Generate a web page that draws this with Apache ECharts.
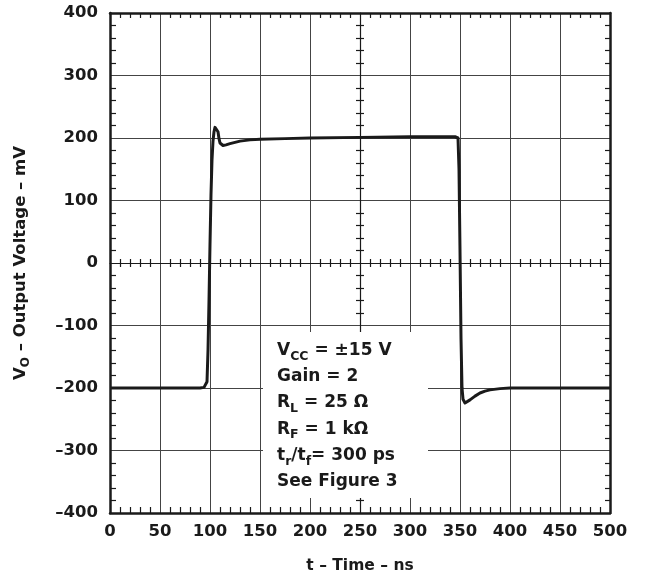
<!DOCTYPE html>
<html><head><meta charset="utf-8">
<script src="https://cdn.jsdelivr.net/npm/echarts@6/dist/echarts.min.js"></script>
<style>html,body{margin:0;padding:0;background:#fff}#c{width:648px;height:577px}</style>
</head><body><div id="c"></div>
<script>
// ---- data ----
const timeNs = [0, 50, 90, 94, 96, 97, 98, 99, 100, 101, 102, 103, 104, 105, 106, 107, 108, 109, 110, 111, 113, 116, 120, 125, 130, 140, 150, 175, 200, 250, 300, 345, 347, 348, 349, 350, 351, 352, 353, 355, 357, 360, 365, 370, 375, 380, 390, 400, 450, 500];
const outputMv = [-200, -200, -200, -199, -197, -190, -140, -60, 30, 110, 165, 195, 210, 217, 220, 218, 210, 199, 192, 189, 188, 189, 191, 193, 195, 197, 198, 199, 200, 201, 202, 202, 202, 200, 150, 20, -120, -200, -218, -224, -223, -219, -213, -208, -205, -203, -201, -200, -200, -200];
const xRange = [0, 500, 50];
const yRange = [-400, 400, 100];
const xTitle = 't – Time – ns';
const yTitleMain = 'V';
const yTitleSub = 'O';
const yTitleRest = ' – Output Voltage – mV';
const noteLines = [
  ['V', 'CC', ' = ±15 V'],
  ['Gain = 2'],
  ['R', 'L', ' = 25 Ω'],
  ['R', 'F', ' = 1 kΩ'],
  ['t', 'r', '/t', 'f', '= 300 ps'],
  ['See Figure 3']
];

// ---- chart ----
const FONT = 'DejaVu Sans';
const INK = '#1a1a1a';
const GRIDC = '#444';
const chart = echarts.init(document.getElementById('c'));

function richLine(parts) {
  return parts.map((p, i) => i % 2 === 0 ? '{n|' + p + '}' : '{s|' + p + '}').join('');
}
const noteText = noteLines.map(richLine).join('\n');

const fmt = v => String(v).replace('-', '–');
function xAx(extra) {
  return Object.assign({
    type: 'value', min: xRange[0], max: xRange[1], interval: xRange[2],
    axisLine: { show: true, onZero: false, lineStyle: { color: INK, width: 2.5 } },
    axisTick: { show: false, inside: true },
    minorTick: { show: true, splitNumber: 5, length: 6, lineStyle: { color: INK, width: 1.2 } },
    splitLine: { show: false }, minorSplitLine: { show: false },
    axisLabel: { show: false }
  }, extra);
}
function yAx(extra) {
  return Object.assign({
    type: 'value', min: yRange[0], max: yRange[1], interval: yRange[2],
    axisLine: { show: true, onZero: false, lineStyle: { color: INK, width: 2.5 } },
    axisTick: { show: false, inside: true },
    minorTick: { show: true, splitNumber: 5, length: 6, lineStyle: { color: INK, width: 1.2 } },
    splitLine: { show: false }, minorSplitLine: { show: false },
    axisLabel: { show: false }
  }, extra);
}

const option = {
  animation: false,
  backgroundColor: '#fff',
  grid: { left: 110, right: 38, top: 13, bottom: 64, containLabel: false, outerBoundsMode: 'none' },
  xAxis: [
    xAx({ position: 'bottom',
      splitLine: { show: true, lineStyle: { color: GRIDC, width: 1 } },
      axisLabel: { show: true, margin: 10, color: INK, fontFamily: FONT, fontWeight: 'bold', fontSize: 16.5, formatter: fmt },
      name: xTitle, nameLocation: 'middle', nameGap: 45,
      nameTextStyle: { color: INK, fontFamily: FONT, fontWeight: 'bold', fontSize: 15.5 }
    }),
    xAx({ position: 'top', minorTick: { show: true, splitNumber: 5, length: 5, lineStyle: { color: INK, width: 1.2 } } }),
    xAx({ position: 'bottom', offset: -250, axisLine: { show: true, onZero: false, lineStyle: { color: INK, width: 1.2 } },
      minorTick: { show: true, splitNumber: 5, length: 4, lineStyle: { color: INK, width: 1.2 } } }),
    xAx({ position: 'bottom', offset: -250, axisTick: { show: false, inside: false }, axisLine: { show: false, onZero: false },
      minorTick: { show: true, splitNumber: 5, length: 4, lineStyle: { color: INK, width: 1.2 } } })
  ],
  yAxis: [
    yAx({ position: 'left',
      splitLine: { show: true, lineStyle: { color: GRIDC, width: 1 } },
      axisLabel: { show: true, margin: 12, color: INK, fontFamily: FONT, fontWeight: 'bold', fontSize: 16.5, formatter: fmt },
      name: '{n|' + yTitleMain + '}{s|' + yTitleSub + '}{n|' + yTitleRest + '}',
      nameLocation: 'middle', nameGap: 76,
      nameTextStyle: { color: INK, fontFamily: FONT, fontWeight: 'bold', fontSize: 16.5,
        rich: {
          n: { fontFamily: FONT, fontWeight: 'bold', fontSize: 16.5, color: INK, verticalAlign: 'top', lineHeight: 22 },
          s: { fontFamily: FONT, fontWeight: 'bold', fontSize: 12, color: INK, verticalAlign: 'top', padding: [8, 0, 0, 0], lineHeight: 22 }
        } }
    }),
    yAx({ position: 'right', minorTick: { show: true, splitNumber: 5, length: 5, lineStyle: { color: INK, width: 1.2 } } }),
    yAx({ position: 'left', offset: -250, axisLine: { show: true, onZero: false, lineStyle: { color: INK, width: 1.2 } },
      minorTick: { show: true, splitNumber: 5, length: 4, lineStyle: { color: INK, width: 1.2 } } }),
    yAx({ position: 'left', offset: -250, axisTick: { show: false, inside: false }, axisLine: { show: false, onZero: false },
      minorTick: { show: true, splitNumber: 5, length: 4, lineStyle: { color: INK, width: 1.2 } } })
  ],
  graphic: [
    { type: 'rect', z: 50, shape: { x: 263, y: 332, width: 165, height: 166 }, style: { fill: '#fff' } },
    { type: 'text', z: 51, left: 277, top: 342,
      style: {
        text: noteText,
        rich: {
          n: { fontFamily: FONT, fontWeight: 'bold', fontSize: 17, fill: INK, verticalAlign: 'top', lineHeight: 26.2 },
          s: { fontFamily: FONT, fontWeight: 'bold', fontSize: 12.5, fill: INK, verticalAlign: 'top', padding: [8, 0, 0, 0], lineHeight: 26.2 }
        }
      } }
  ],
  series: [{
    type: 'line', xAxisIndex: 0, yAxisIndex: 0, z: 20,
    data: timeNs.map((t, i) => [t, outputMv[i]]),
    showSymbol: false, symbol: 'none',
    lineStyle: { color: INK, width: 3, join: 'round' }
  }]
};
chart.setOption(option);
</script>
</body></html>
